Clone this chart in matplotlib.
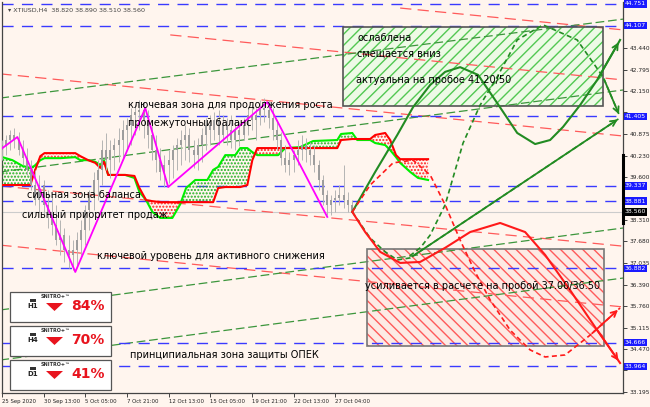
import numpy as np
import matplotlib.pyplot as plt
from matplotlib.patches import Rectangle, Polygon
import matplotlib.transforms as mtransforms

# ---------------------------------------------------------------- data
bar_high = [40.70, 40.85, 41.00, 41.06, 40.94, 40.70, 40.46, 40.10, 39.81, 39.66,
            39.51, 39.21, 39.06, 38.77, 38.32, 38.08, 37.87, 37.72, 37.96, 38.32,
            38.77, 39.21, 39.75, 40.10, 40.70, 40.91, 40.70, 40.76, 41.06, 41.30,
            41.36, 41.65, 41.77, 41.89, 41.83, 41.59, 41.30, 40.85, 40.46, 40.25,
            40.40, 40.55, 40.76, 41.00, 41.15, 41.06, 40.70, 40.76, 41.06, 41.36,
            41.45, 41.53, 41.59, 41.45, 41.36, 41.45, 41.30, 41.24, 41.36, 41.65,
            41.77, 41.65, 41.89, 41.95, 41.89, 41.65, 41.30, 40.94, 40.55, 40.34,
            40.40, 40.70, 40.85, 40.76, 40.64, 40.55, 40.10, 39.66, 39.21, 39.06,
            39.21, 39.36, 39.96, 39.15, 38.91]
bar_low = [40.10, 40.25, 40.40, 40.46, 40.25, 39.96, 39.66, 39.21, 38.77, 38.56,
           38.47, 38.08, 37.87, 37.57, 37.28, 37.07, 36.89, 36.83, 36.98, 37.28,
           37.57, 38.02, 38.62, 38.91, 39.36, 39.81, 39.57, 39.81, 40.05, 40.16,
           40.40, 40.55, 40.85, 41.00, 40.76, 40.46, 40.10, 39.75, 39.51, 39.30,
           39.42, 39.57, 39.81, 39.96, 40.10, 40.05, 39.87, 39.81, 40.05, 40.40,
           40.55, 40.70, 40.55, 40.64, 40.55, 40.46, 40.40, 40.52, 40.70, 40.85,
           41.00, 40.70, 41.15, 41.24, 41.06, 40.70, 40.40, 39.96, 39.75, 39.66,
           39.75, 39.96, 40.10, 40.05, 39.96, 39.75, 39.21, 38.77, 38.47, 38.47,
           38.56, 38.77, 38.68, 38.56, 38.56]
bar_close = [40.55, 40.70, 40.85, 40.70, 40.40, 40.16, 39.81, 39.36, 38.91, 39.36,
             38.77, 38.47, 38.17, 37.72, 37.87, 37.43, 37.28, 37.43, 37.72, 38.02,
             38.62, 39.06, 39.51, 39.81, 40.40, 40.10, 40.40, 40.55, 40.70, 41.00,
             41.15, 41.45, 41.53, 41.59, 41.30, 40.85, 40.40, 40.10, 39.75, 39.96,
             40.10, 40.40, 40.55, 40.70, 40.85, 40.40, 40.25, 40.55, 40.85, 41.15,
             41.00, 41.30, 40.85, 41.15, 41.00, 40.70, 41.00, 40.85, 41.15, 41.45,
             41.30, 41.45, 41.65, 41.59, 41.36, 41.00, 40.70, 40.16, 39.96, 40.10,
             40.25, 40.40, 40.55, 40.40, 40.25, 39.96, 39.51, 39.06, 38.77, 38.91,
             38.97, 39.06, 38.91, 38.77, 38.56]
first_open = 40.40

time_labels = ['25 Sep 2020', '30 Sep 13:00', '5 Oct 05:00', '7 Oct 21:00',
               '12 Oct 13:00', '15 Oct 05:00', '19 Oct 21:00', '22 Oct 13:00',
               '27 Oct 04:00']
price_ticks = [33.195, 33.840, 34.470, 35.115, 35.760, 36.390, 37.035, 37.680,
               38.310, 38.955, 39.600, 40.230, 40.875, 41.520, 42.150, 42.795,
               43.440, 44.085]
# tick labels hidden behind the level boxes
hidden_ticks = [33.840, 38.955, 41.520, 44.085]
level_prices = [44.751, 44.107, 41.405, 39.337, 38.881, 36.882, 34.666, 33.964]
last_price = 38.560

cloud_x = [0.1, 2.5, 4.9, 6.8, 7.8, 9.2, 10.2, 14.0, 17.6, 18.8, 20.7, 22.4, 23.6,
           24.5, 25.5, 29.6, 31.8, 33.0, 34.6, 36.1, 38.0, 40.9, 42.8, 44.2, 46.4,
           49.3, 50.7, 51.9, 53.6, 56.0, 57.2, 58.9, 60.1, 61.3, 64.4, 66.3, 68.0,
           71.6, 74.7, 80.5, 81.4, 84.1, 85.3, 88.4, 89.6, 92.0, 93.2, 94.6, 95.6,
           98.0, 99.9, 102.3]
span_red = [39.36, 39.36, 39.36, 39.36, 39.75, 40.22, 40.31, 40.31, 40.31, 40.22,
            40.10, 40.02, 39.87, 40.05, 39.66, 39.66, 39.63, 39.27, 38.91, 38.88,
            38.85, 38.85, 38.85, 38.85, 38.85, 38.85, 38.85, 39.27, 39.30, 39.30,
            39.30, 39.36, 40.10, 40.46, 40.46, 40.46, 40.46, 40.46, 40.46, 40.46,
            40.70, 40.73, 40.73, 40.73, 40.85, 40.91, 40.70, 40.25, 40.13, 40.13,
            40.13, 40.13]
span_green = [40.19, 40.10, 39.93, 39.87, 39.93, 40.10, 40.16, 40.16, 40.19, 40.10,
              40.10, 40.05, 39.96, 40.10, 39.66, 39.66, 39.57, 39.15, 38.91, 38.56,
              38.38, 38.38, 38.79, 39.27, 39.51, 39.51, 39.81, 39.90, 40.25, 40.25,
              40.46, 40.46, 40.34, 40.25, 40.25, 40.25, 40.46, 40.49, 40.67, 40.70,
              40.88, 40.91, 40.70, 40.70, 40.61, 40.55, 40.40, 40.19, 40.02, 39.75,
              39.57, 39.51]

zigzag_x = [0.1, 3.7, 17.6, 34.4, 39.9, 63.7, 78.1]
zigzag_y = [40.46, 40.79, 36.77, 41.65, 39.30, 41.83, 38.41]

red_trends = [((-0.4, 42.67), (149.1, 40.82)), ((40.4, 43.83), (149.1, 42.49)),
              ((95.6, 44.63), (149.1, 43.98)), ((-0.4, 39.33), (149.1, 37.54)),
              ((-0.4, 37.57), (149.1, 35.73))]
green_trends = [((-0.4, 41.95), (149.1, 44.30)), ((-0.4, 39.75), (149.1, 42.19)),
                ((-0.4, 35.64), (149.1, 38.08)), ((-0.4, 34.15), (149.1, 36.59))]

# forecast paths
gs_x = [84.1, 89.6, 94.9, 98.7, 102.8, 106.4, 110.0, 114.3, 118.9, 123.7, 128.0,
        131.6, 134.7, 138.8, 142.9, 148.4]
gs_y = [38.56, 39.75, 40.85, 41.68, 42.34, 42.73, 42.87, 42.64, 41.80, 40.91,
        40.58, 40.70, 41.09, 41.74, 42.49, 43.68]
gd1_x = [84.1, 88.4, 92.0, 94.9, 98.0, 148.4]
gd1_y = [38.56, 37.78, 37.37, 37.13, 37.19, 41.36]
gd2_x = [97.9, 100.5, 102.8, 106.4, 110.7, 114.8, 118.9, 123.7, 129.9, 138.1, 144.3, 148.4]
gd2_y = [37.25, 37.50, 37.87, 38.77, 40.61, 41.74, 42.58, 43.68, 44.13, 43.68, 42.58, 41.39]
rs_x = [84.1, 87.2, 90.8, 95.6, 100.4, 106.4, 112.4, 119.6, 125.6, 130.4, 136.4,
        142.4, 148.4]
rs_y = [38.56, 37.96, 37.37, 37.04, 37.07, 37.49, 37.96, 38.23, 37.96, 37.28,
        36.23, 35.13, 34.06]
rd_x = [84.1, 88.4, 93.9, 98.7, 102.8, 106.4, 110.0, 113.6, 117.2, 122.0, 126.8,
        130.4, 135.2, 141.2, 148.4]
rd_y = [38.56, 39.36, 40.02, 40.10, 39.66, 38.77, 37.72, 36.77, 35.94, 35.04,
        34.45, 34.24, 34.30, 34.89, 35.70]

green_box = (81.9, 144.3, 41.71, 44.07)
red_box = (87.7, 144.5, 34.57, 37.45)

snitro_tf = ['H1', 'H4', 'D1']
snitro_pct = ['84%', '70%', '41%']

# ---------------------------------------------------------------- figure
BG = '#fff5ee'
W, H = 650, 407
fig = plt.figure(figsize=(6.5, 4.07), dpi=100, facecolor=BG)
ax = fig.add_axes([2 / W, 14 / H, 621 / W, 391 / H], facecolor=BG)
ax.set_xlim(0.07, 149.1)
ax.set_ylim(33.167, 44.81)

def fx(px):
    return px / W

def fy(py):
    return 1 - py / H

# trend lines
for (a, b) in red_trends:
    ax.plot([a[0], b[0]], [a[1], b[1]], color='#ff5a5a', lw=0.9, dashes=(9, 5), zorder=2)
for (a, b) in green_trends:
    ax.plot([a[0], b[0]], [a[1], b[1]], color='#3c963c', lw=0.9, dashes=(7, 3), zorder=2)

for lv in level_prices:
    ax.axhline(lv, color='#3a3aff', lw=1.0, dashes=(8, 6), zorder=2)
ax.axhline(last_price, color='#cccccc', lw=0.8, zorder=1)

# cloud
cx = np.array(cloud_x)
cr = np.array(span_red)
cg = np.array(span_green)
plt.rcParams['hatch.linewidth'] = 1.0
ax.fill_between(cx, cr, cg, where=cg >= cr, interpolate=True, facecolor='none',
                edgecolor='#22b022', hatch='.....', lw=0, zorder=3)
ax.fill_between(cx, cr, cg, where=cg < cr, interpolate=True, facecolor='none',
                edgecolor='#ff2020', hatch='.....', lw=0, zorder=3)
ax.plot(cx, cg, color='#00ee00', lw=1.5, zorder=4)
ax.plot(cx, cr, color='#ff0000', lw=1.5, zorder=4)

# candles
opens = [first_open] + bar_close[:-1]
xs = np.arange(len(bar_close))
ax.vlines(xs, bar_low, bar_high, color='#b4b4b4', lw=0.7, zorder=5)
ax.vlines(xs, np.minimum(opens, bar_close), np.maximum(opens, bar_close),
          color='#9c9c9c', lw=1.4, zorder=5)

ax.plot(zigzag_x, zigzag_y, color='#ff00ff', lw=1.3, zorder=6)

# boxes
x0, x1, y0, y1 = green_box
ax.add_patch(Rectangle((x0, y0), x1 - x0, y1 - y0, facecolor='#eefae6', edgecolor='#52c852',
                       hatch='///', lw=0, zorder=1.5))
ax.add_patch(Rectangle((x0, y0), x1 - x0, y1 - y0, facecolor='none', edgecolor='#555555',
                       lw=1.2, zorder=7))
x0, x1, y0, y1 = red_box
ax.add_patch(Rectangle((x0, y0), x1 - x0, y1 - y0, facecolor='#fdeae4', edgecolor='#ff5a5a',
                       hatch='\\\\\\', lw=0, zorder=1.5))
ax.add_patch(Rectangle((x0, y0), x1 - x0, y1 - y0, facecolor='none', edgecolor='#777777',
                       lw=1.2, zorder=7))

# forecast paths
def path(xv, yv, color, ls):
    if ls == 'solid':
        ax.plot(xv, yv, color=color, lw=1.5, zorder=8)
    else:
        ax.plot(xv, yv, color=color, lw=1.2, dashes=(3, 2), zorder=8)
    ax.annotate('', xy=(xv[-1], yv[-1]), xytext=(xv[-2], yv[-2]),
                arrowprops=dict(arrowstyle='->', color=color, lw=1.3, mutation_scale=10),
                zorder=8)

path(gs_x, gs_y, '#228b22', 'solid')
path(gd1_x, gd1_y, '#228b22', 'dash')
path(gd2_x, gd2_y, '#228b22', 'dash')
path(rs_x, rs_y, '#ff1a1a', 'solid')
path(rd_x, rd_y, '#ff1a1a', 'dash')

# annotations
tk = dict(fontsize=7.0, color='black', va='center', ha='left', zorder=10)
ax.text(85.3, 43.74, 'ослаблена', **tk)
ax.text(85.3, 43.29, 'смещается вниз', **tk)
ax.text(85.0, 42.49, 'актуальна на пробое 41.20/50', **tk)
ax.text(87.2, 36.35, 'усиливается в расчете на пробой 37.00/36.50', **tk)
ax.text(30.3, 41.74, 'ключевая зона для продолжения роста', **tk)
ax.text(30.3, 41.21, 'промежуточный баланс', **tk)
ax.text(6.1, 39.06, 'сильная зона баланса', **tk)
ax.text(4.9, 38.47, 'сильный приоритет продаж', **tk)
ax.text(22.9, 37.25, 'ключевой уровень для активного снижения', **tk)
ax.text(30.8, 34.30, 'принципиальная зона защиты ОПЕК', **tk)

ax.text(0.01, 0.985, '\u25be XTIUSD,H4  38.820 38.890 38.510 38.560', transform=ax.transAxes,
        fontsize=4.6, color='#444444', va='top', ha='left')

# axes styling
for s in ['left', 'bottom', 'right']:
    ax.spines[s].set_color('#444444')
    ax.spines[s].set_linewidth(0.9)
ax.spines['top'].set_visible(False)
ax.yaxis.tick_right()
ax.set_yticks(price_ticks)
ax.set_yticklabels(['' if v in hidden_ticks else '%.3f' % v for v in price_ticks])
ax.tick_params(axis='y', labelsize=4.2, length=3, width=0.7, color='#444444',
               labelcolor='#222222', pad=1.5)
ax.set_xticks(np.arange(0, 90, 10))
ax.set_xticklabels(time_labels)
ax.tick_params(axis='x', labelsize=3.9, length=3, width=0.7, color='#444444',
               labelcolor='#222222', pad=1)
for lab in ax.get_xticklabels():
    lab.set_ha('left')

tr = mtransforms.blended_transform_factory(ax.transAxes, ax.transData)
for lv in level_prices:
    ax.text(1.003, lv, '%.3f' % lv, transform=tr, fontsize=4.4, color='white', va='center',
            ha='left', zorder=11, bbox=dict(boxstyle='square,pad=0.2', fc='#1a1aff', ec='none'),
            clip_on=False)
ax.text(1.003, last_price, '%.3f' % last_price, transform=tr, fontsize=4.4, color='white',
        va='center', ha='left', zorder=11,
        bbox=dict(boxstyle='square,pad=0.2', fc='black', ec='none'), clip_on=False)
ax.plot([1.0, 1.0], [38.22, 40.25], transform=tr, color='black', lw=2.2, clip_on=False, zorder=11)

# SNITRO panels
for k in range(3):
    dy = 34 * k
    fig.add_artist(Rectangle((fx(10), fy(322 + dy)), fx(101), 30 / H, transform=fig.transFigure,
                             facecolor='white', edgecolor='#555555', lw=0.9, zorder=20))
    fig.add_artist(Rectangle((fx(30), fy(302 + dy)), fx(6), 3 / H, transform=fig.transFigure,
                             facecolor='#333333', edgecolor='none', zorder=21))
    fig.text(fx(33), fy(306 + dy), snitro_tf[k], fontsize=5, fontweight='bold', color='#222222',
             ha='center', va='center', zorder=21)
    fig.text(fx(56), fy(296 + dy), 'SNITRO+\u2122', fontsize=3.5, fontweight='bold',
             color='#333333', ha='center', va='center', zorder=21)
    fig.add_artist(Polygon([(fx(46), fy(303 + dy)), (fx(63), fy(303 + dy)), (fx(54.5), fy(311 + dy))],
                           closed=True, transform=fig.transFigure, facecolor='#e8141e',
                           edgecolor='none', zorder=21))
    fig.text(fx(71), fy(306 + dy), snitro_pct[k], fontsize=10, fontweight='bold', color='#e8141e',
             ha='left', va='center', zorder=21)

fig.savefig('out.png', dpi=100, facecolor=BG)
